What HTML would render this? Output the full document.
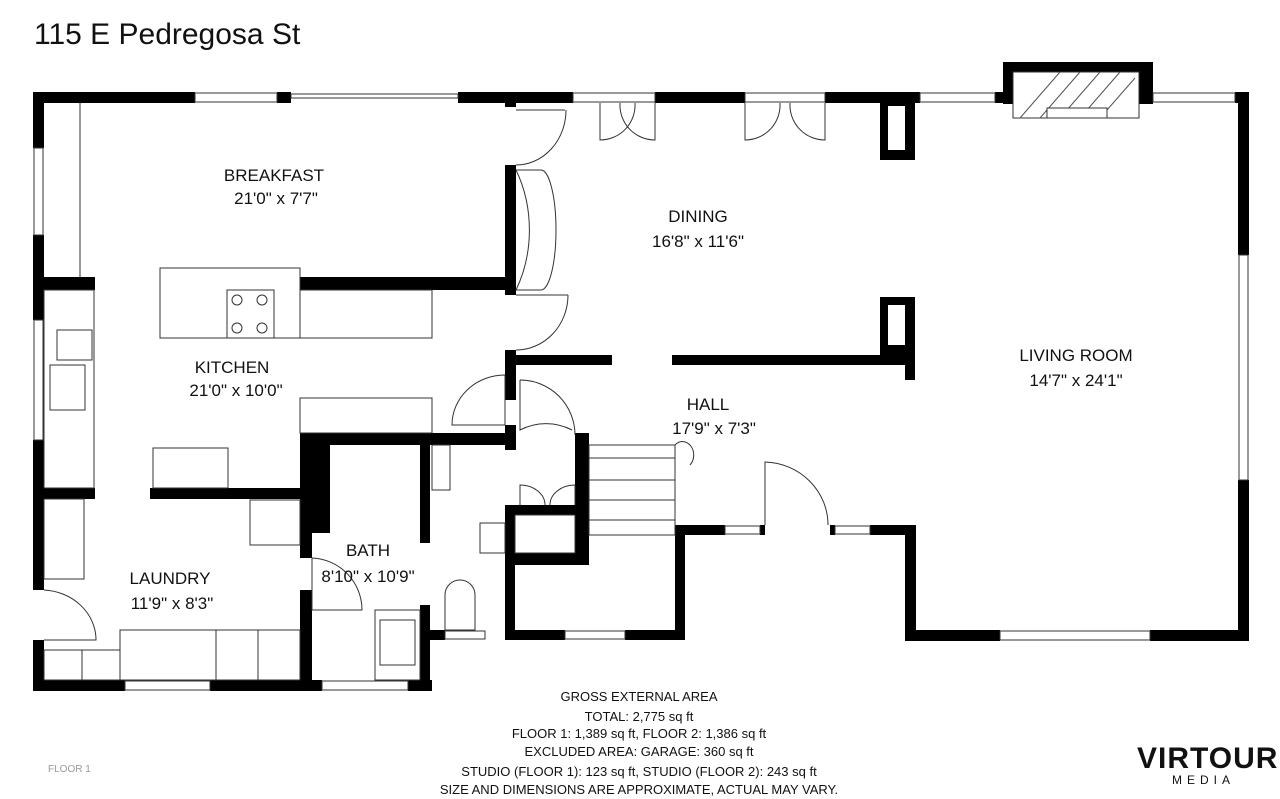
<!DOCTYPE html>
<html><head><meta charset="utf-8"><style>
body{margin:0;background:#fff;width:1280px;height:799px;overflow:hidden}
svg{display:block}
text{font-family:"Liberation Sans",sans-serif;fill:#111}
</style></head><body>
<svg width="1280" height="799" viewBox="0 0 1280 799" xmlns="http://www.w3.org/2000/svg">
<text x="34" y="44" font-size="30">115 E Pedregosa St</text>
<g fill="#000">
<rect x="33" y="92" width="162" height="11"/>
<rect x="277" y="92" width="14" height="11"/>
<rect x="458" y="92" width="115" height="11"/>
<rect x="655" y="92" width="90" height="11"/>
<rect x="825" y="92" width="95" height="11"/>
<rect x="995" y="92" width="10" height="11"/>
<rect x="1003" y="62" width="150" height="42"/>
<rect x="1235" y="92" width="13" height="11"/>
<rect x="33" y="92" width="11" height="56"/>
<rect x="33" y="235" width="11" height="85"/>
<rect x="33" y="440" width="11" height="150"/>
<rect x="33" y="640" width="11" height="50"/>
<rect x="33" y="277" width="62" height="13"/>
<rect x="33" y="680" width="92" height="11"/>
<rect x="210" y="680" width="112" height="11"/>
<rect x="408" y="680" width="24" height="11"/>
<rect x="1238" y="92" width="11" height="163"/>
<rect x="1238" y="480" width="11" height="160"/>
<rect x="905" y="630" width="95" height="11"/>
<rect x="1150" y="630" width="99" height="11"/>
<rect x="905" y="525" width="11" height="115"/>
<rect x="505" y="92" width="11" height="15"/>
<rect x="505" y="165" width="11" height="130"/>
<rect x="505" y="350" width="11" height="30"/>
<rect x="300" y="277" width="215" height="13"/>
<rect x="515" y="355" width="97" height="10"/>
<rect x="672" y="355" width="243" height="10"/>
<rect x="905" y="297" width="10" height="83"/>
<rect x="880" y="297" width="35" height="8"/>
<rect x="880" y="297" width="8" height="60"/>
<rect x="880" y="345" width="35" height="10"/>
<rect x="880" y="98" width="35" height="8"/>
<rect x="905" y="98" width="10" height="62"/>
<rect x="880" y="98" width="8" height="62"/>
<rect x="880" y="150" width="35" height="10"/>
<rect x="675" y="525" width="50" height="10"/>
<rect x="760" y="525" width="5" height="10"/>
<rect x="830" y="525" width="5" height="10"/>
<rect x="870" y="525" width="45" height="10"/>
<rect x="675" y="525" width="10" height="115"/>
<rect x="505" y="630" width="60" height="10"/>
<rect x="625" y="630" width="60" height="10"/>
<rect x="505" y="555" width="10" height="85"/>
<rect x="300" y="433" width="215" height="12"/>
<rect x="300" y="433" width="30" height="100"/>
<rect x="300" y="533" width="12" height="25"/>
<rect x="300" y="590" width="12" height="100"/>
<rect x="150" y="488" width="150" height="11"/>
<rect x="33" y="488" width="62" height="11"/>
<rect x="420" y="433" width="10" height="110"/>
<rect x="420" y="605" width="10" height="85"/>
<rect x="430" y="630" width="15" height="10"/>
<rect x="505" y="380" width="11" height="20"/>
<rect x="505" y="425" width="11" height="25"/>
<rect x="575" y="433" width="14" height="120"/>
<rect x="505" y="553" width="84" height="12"/>
<rect x="505" y="505" width="10" height="55"/>
<rect x="505" y="505" width="80" height="10"/>
</g>
<rect x="1013" y="72" width="126" height="46" fill="#fff" stroke="#333"/>
<g fill="none" stroke="#333" stroke-width="1">
<rect x="195" y="93" width="82" height="9"/><rect x="291" y="94" width="167" height="4"/>
<rect x="573" y="93" width="82" height="9"/><rect x="745" y="93" width="80" height="9"/>
<rect x="920" y="93" width="75" height="9"/><rect x="1153" y="93" width="82" height="9"/>
<rect x="34" y="148" width="9" height="87"/><rect x="34" y="320" width="9" height="120"/>
<rect x="125" y="681" width="85" height="9"/><rect x="322" y="681" width="86" height="9"/>
<rect x="1239" y="255" width="9" height="225"/><rect x="1000" y="631" width="150" height="9"/>
<rect x="725" y="526" width="35" height="8"/><rect x="835" y="526" width="35" height="8"/>
<rect x="565" y="631" width="60" height="8"/><rect x="445" y="631" width="40" height="8"/>
<line x1="80" y1="103" x2="80" y2="277"/>
<rect x="160" y="268" width="140" height="70"/><rect x="300" y="290" width="132" height="48"/>
<rect x="227" y="290" width="47" height="48"/>
<circle cx="237" cy="300" r="5"/><circle cx="262" cy="300" r="5"/><circle cx="237" cy="328" r="5"/><circle cx="262" cy="328" r="5"/>
<rect x="44" y="290" width="50" height="198"/><rect x="57" y="330" width="35" height="30"/><rect x="50" y="365" width="35" height="45"/>
<rect x="300" y="398" width="132" height="35"/><rect x="153" y="448" width="75" height="40"/>
<rect x="250" y="500" width="50" height="45"/>
<rect x="44" y="499" width="40" height="80"/>
<rect x="44" y="650" width="76" height="30"/><rect x="120" y="630" width="180" height="50"/>
<line x1="216" y1="630" x2="216" y2="680"/><line x1="258" y1="630" x2="258" y2="680"/><line x1="82" y1="650" x2="82" y2="680"/>
<rect x="375" y="610" width="45" height="70"/><rect x="380" y="620" width="35" height="45"/>
<path d="M445 630 V595 a15 15 0 0 1 30 0 V630 Z"/>
<rect x="480" y="523" width="25" height="30"/>
<rect x="432" y="445" width="18" height="45"/>
<rect x="589" y="445" width="86" height="90"/>
<line x1="589" y1="458" x2="675" y2="458"/><line x1="589" y1="480" x2="675" y2="480"/><line x1="589" y1="500" x2="675" y2="500"/><line x1="589" y1="520" x2="675" y2="520"/>
<path d="M675 445 a10 12 0 0 1 15 20"/>
<rect x="515" y="515" width="60" height="38"/>
<path d="M516 110 H565 M516 165 a50 55 0 0 0 50 -55"/>
<path d="M600 103 V140 a35 35 0 0 0 35 -37 M655 103 V140 a35 35 0 0 1 -35 -37"/>
<path d="M745 103 V140 a35 35 0 0 0 35 -37 M825 103 V140 a35 35 0 0 1 -35 -37"/>
<path d="M516 170 a100 120 0 0 1 0 120 M516 170 h25 a15 60 0 0 1 0 120 h-25"/>
<path d="M516 295 H568 M516 350 a52 55 0 0 0 52 -55"/>
<path d="M505 375 V425 H452 a53 50 0 0 1 53 -50"/>
<path d="M520 380 V430 a53 50 0 0 1 52 0 M520 380 a55 55 0 0 1 55 55"/>
<path d="M765 525 V462 a65 63 0 0 1 63 63"/>
<path d="M44 590 a55 50 0 0 1 52 50 H44"/>
<path d="M312 558 V610 H362 a52 52 0 0 0 -50 -52"/>
<path d="M520 505 V485 a25 20 0 0 1 25 20 M575 505 V485 a25 20 0 0 0 -25 20"/>
</g>
<path d="M1020 118 L1060 72 M1040 118 L1080 72 M1060 118 L1100 72 M1080 118 L1120 72 M1100 118 L1135 78" stroke="#555"/>
<rect x="1047" y="108" width="60" height="10" fill="#fff" stroke="#333"/>
<g font-size="17" text-anchor="middle">
<text x="274" y="181">BREAKFAST</text><text x="276" y="204">21'0" x 7'7"</text>
<text x="698" y="222">DINING</text><text x="698" y="247">16'8" x 11'6"</text>
<text x="1076" y="361">LIVING ROOM</text><text x="1076" y="386">14'7" x 24'1"</text>
<text x="232" y="373">KITCHEN</text><text x="236" y="396">21'0" x 10'0"</text>
<text x="708" y="410">HALL</text><text x="714" y="434">17'9" x 7'3"</text>
<text x="368" y="556">BATH</text><text x="368" y="582">8'10" x 10'9"</text>
<text x="170" y="584">LAUNDRY</text><text x="172" y="609">11'9" x 8'3"</text>
</g>
<g font-size="13" text-anchor="middle">
<text x="639" y="701">GROSS EXTERNAL AREA</text>
<text x="639" y="721">TOTAL: 2,775 sq ft</text>
<text x="639" y="738">FLOOR 1: 1,389 sq ft, FLOOR 2: 1,386 sq ft</text>
<text x="639" y="756">EXCLUDED AREA: GARAGE: 360 sq ft</text>
<text x="639" y="776">STUDIO (FLOOR 1): 123 sq ft, STUDIO (FLOOR 2): 243 sq ft</text>
<text x="639" y="794">SIZE AND DIMENSIONS ARE APPROXIMATE, ACTUAL MAY VARY.</text>
</g>
<text x="48" y="772" font-size="10" style="fill:#999">FLOOR 1</text>
<text x="1137" y="768" font-size="30" font-weight="bold" style="letter-spacing:1px">VIRTOUR</text>
<text x="1172" y="784" font-size="12" style="letter-spacing:5px">MEDIA</text>
</svg>
</body></html>
